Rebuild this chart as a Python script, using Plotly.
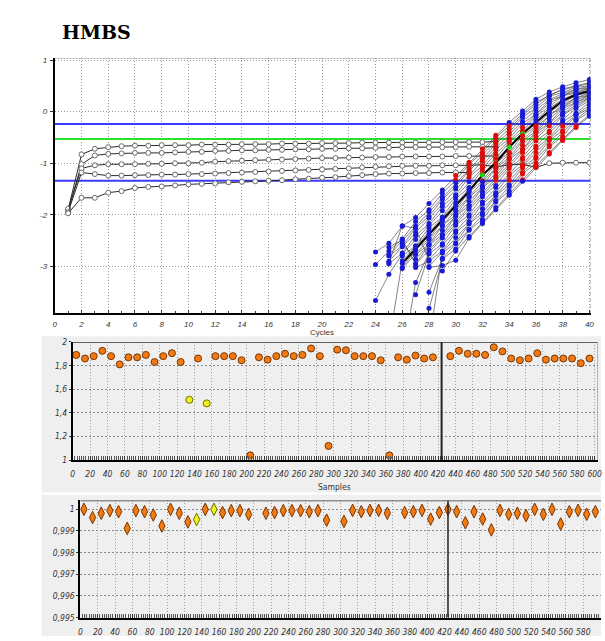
import plotly.graph_objects as go

W, H = 605, 641

# ---------------- data ----------------
title_text = "HMBS"
top_x_title = "Cycles"
mid_x_title = "Samples"

cycle_ticks = [0, 2, 4, 6, 8, 10, 12, 14, 16, 18, 20, 22, 24, 26, 28, 30, 32, 34, 36, 38, 40]
cycle_tick_labels = ["0", "2", "4", "6", "8", "10", "12", "14", "16", "18", "20",
                     "22", "24", "26", "28", "30", "32", "34", "36", "38", "40"]
logf_ticks = [1, 0, -1, -2, -3]
logf_tick_labels = ["1", "0", "-1", "-2", "-3"]

sample_ticks = [0, 20, 40, 60, 80, 100, 120, 140, 160, 180, 200, 220, 240, 260, 280, 300,
                320, 340, 360, 380, 400, 420, 440, 460, 480, 500, 520, 540, 560, 580, 600]
sample_tick_labels = [str(v) for v in sample_ticks]
eff_ticks = [1, 1.2, 1.4, 1.6, 1.8, 2]
eff_tick_labels = ["1", "1,2", "1,4", "1,6", "1,8", "2"]
r2_ticks = [0.995, 0.996, 0.997, 0.998, 0.999, 1.0]
r2_tick_labels = ["0,995", "0,996", "0,997", "0,998", "0,999", "1"]

window_upper = -0.24
window_lower = -1.34
threshold = -0.53

# flat (non-amplifying) curves, log10 fluorescence from cycle 1
flat_A = [-1.90, -0.83, -0.72, -0.69, -0.67, -0.66, -0.66, -0.65, -0.65, -0.65, -0.64, -0.64, -0.64,
          -0.63, -0.63, -0.63, -0.62, -0.62, -0.62, -0.61, -0.61, -0.61, -0.60, -0.60, -0.60, -0.60,
          -0.60, -0.60, -0.59, -0.59, -0.59, -0.59, -0.58]
flat_B = [-1.93, -1.02, -0.85, -0.82, -0.81, -0.80, -0.80, -0.80, -0.79, -0.78, -0.78, -0.76, -0.76,
          -0.75, -0.75, -0.74, -0.74, -0.73, -0.73, -0.72, -0.72, -0.71, -0.71, -0.70, -0.70, -0.69,
          -0.69, -0.69, -0.69, -0.69, -0.68, -0.68, -0.68]
flat_C = [-1.88, -1.10, -1.04, -1.02, -1.02, -1.02, -1.01, -1.01, -1.00, -1.00, -0.99, -0.97, -0.96,
          -0.95, -0.94, -0.93, -0.93, -0.92, -0.91, -0.90, -0.90, -0.89, -0.89, -0.88, -0.88, -0.87,
          -0.87, -0.87, -0.87, -0.86, -0.86, -0.86, -0.86]
flat_D = [-1.95, -1.18, -1.21, -1.24, -1.24, -1.23, -1.23, -1.22, -1.22, -1.21, -1.21, -1.20, -1.19,
          -1.18, -1.17, -1.16, -1.15, -1.14, -1.13, -1.12, -1.11, -1.10, -1.08, -1.07, -1.06, -1.05,
          -1.05, -1.05, -1.04, -1.04, -1.04, -1.03, -1.07, -1.03, -1.02, -1.08, -1.00, -0.99, -0.99, -0.99]
flat_E = [-1.97, -1.67, -1.67, -1.57, -1.54, -1.48, -1.46, -1.45, -1.43, -1.41, -1.40, -1.39, -1.37,
          -1.36, -1.35, -1.34, -1.33, -1.31, -1.30, -1.28, -1.27, -1.25, -1.23, -1.21, -1.20, -1.20,
          -1.19, -1.19, -1.18, -1.18, -1.18]
flat_curves = [flat_A, flat_B, flat_C, flat_D, flat_E]

# amplifying curves, log10 fluorescence at cycles 24..40
rise_cycles = [24, 25, 26, 27, 28, 29, 30, 31, 32, 33, 34, 35, 36, 37, 38, 39, 40]
rise_c01 = [-2.72, -2.55, -2.22, -2.05, -1.78, -1.52, -1.24, -0.98, -0.72, -0.46, -0.21, 0.01, 0.24, 0.38, 0.48, 0.56, 0.62]
rise_c02 = [-2.96, -2.70, -2.47, -2.13, -1.90, -1.58, -1.33, -1.02, -0.79, -0.50, -0.28, -0.04, 0.18, 0.31, 0.44, 0.50, 0.56]
rise_c03 = [None, -2.78, -2.50, -2.22, -1.94, -1.66, -1.38, -1.10, -0.84, -0.58, -0.33, -0.08, 0.14, 0.32, 0.42, 0.49, 0.54]
rise_c04 = [None, -2.80, -2.60, -2.25, -2.03, -1.70, -1.46, -1.14, -0.92, -0.62, -0.40, -0.11, 0.07, 0.30, 0.37, 0.47, 0.50]
rise_c05 = [None, -2.90, -2.62, -2.34, -2.06, -1.78, -1.50, -1.22, -0.96, -0.70, -0.44, -0.19, 0.03, 0.23, 0.35, 0.43, 0.49]
rise_c06 = [None, -2.95, -2.74, -2.40, -2.17, -1.84, -1.61, -1.27, -1.05, -0.74, -0.52, -0.23, -0.05, 0.21, 0.31, 0.43, 0.46]
rise_c07 = [-3.66, -3.15, -2.76, -2.48, -2.20, -1.92, -1.64, -1.36, -1.08, -0.82, -0.56, -0.31, -0.06, 0.16, 0.31, 0.39, 0.45]
rise_c08 = [None, None, -2.80, -2.60, -2.25, -2.04, -1.69, -1.47, -1.13, -0.91, -0.59, -0.38, -0.09, 0.09, 0.31, 0.36, 0.45]
rise_c09 = [None, -4.50, -2.89, -2.61, -2.33, -2.05, -1.77, -1.49, -1.21, -0.93, -0.67, -0.41, -0.16, 0.06, 0.24, 0.35, 0.42]
rise_c10 = [None, None, -2.94, -2.66, -2.38, -2.10, -1.82, -1.54, -1.23, -0.99, -0.69, -0.43, -0.21, 0.01, 0.21, 0.33, 0.40]
rise_c11 = [None, None, -3.02, -2.68, -2.46, -2.12, -1.90, -1.56, -1.34, -1.00, -0.79, -0.47, -0.28, -0.01, 0.16, 0.32, 0.36]
rise_c12 = [None, None, -3.04, -2.76, -2.48, -2.20, -1.92, -1.64, -1.36, -1.08, -0.81, -0.55, -0.30, -0.08, 0.13, 0.27, 0.36]
rise_c13 = [None, None, None, -2.77, -2.57, -2.21, -2.00, -1.66, -1.44, -1.10, -0.89, -0.57, -0.38, -0.07, 0.09, 0.27, 0.32]
rise_c14 = [None, None, -2.55, -2.86, -2.58, -2.30, -2.02, -1.74, -1.46, -1.18, -0.91, -0.65, -0.39, -0.14, 0.08, 0.23, 0.32]
rise_c15 = [None, None, None, -2.95, -2.59, -2.38, -2.03, -1.82, -1.48, -1.26, -0.93, -0.73, -0.41, -0.22, 0.06, 0.18, 0.32]
rise_c16 = [None, -2.63, -2.48, -2.96, -2.68, -2.40, -2.12, -1.84, -1.56, -1.28, -1.01, -0.74, -0.48, -0.23, -0.01, 0.18, 0.28]
rise_c17 = [None, None, -4.80, -3.31, -2.73, -2.45, -2.17, -1.89, -1.61, -1.33, -1.06, -0.79, -0.53, -0.28, -0.06, 0.14, 0.26]
rise_c18 = [None, None, None, -3.55, -2.76, -2.56, -2.20, -2.00, -1.65, -1.43, -1.10, -0.89, -0.57, -0.38, -0.07, 0.09, 0.26]
rise_c19 = [None, -2.93, -2.21, -2.26, -2.87, -2.59, -2.31, -2.03, -1.75, -1.47, -1.20, -0.93, -0.67, -0.41, -0.16, 0.06, 0.21]
rise_c20 = [None, None, None, -3.02, -2.90, -2.70, -2.34, -2.13, -1.79, -1.57, -1.24, -1.03, -0.71, -0.51, -0.20, -0.03, 0.18]
rise_c21 = [None, None, None, None, -3.00, -2.72, -2.44, -2.16, -1.88, -1.60, -1.33, -1.06, -0.79, -0.53, -0.28, -0.06, 0.12]
rise_c22 = [None, None, None, None, -4.50, -2.74, -2.54, -2.18, -1.97, -1.63, -1.42, -1.09, -0.88, -0.56, -0.37, -0.07, 0.06]
rise_c23 = [None, None, None, None, -3.50, -2.84, -2.56, -2.28, -2.00, -1.72, -1.45, -1.18, -0.91, -0.65, -0.40, -0.15, 0.05]
rise_c24 = [None, None, None, -4.80, -3.81, -2.86, -2.66, -2.30, -2.09, -1.75, -1.54, -1.21, -1.00, -0.68, -0.48, -0.17, -0.01]
rise_c25 = [None, None, None, None, None, -3.09, -2.70, -2.42, -2.14, -1.86, -1.59, -1.32, -1.05, -0.79, -0.53, -0.28, -0.06]
rise_c26 = [None, None, None, None, -3.02, -2.98, -2.88, -2.45, -2.17, -1.90, -1.62, -1.35, -1.08, -0.82, -0.56, -0.31, -0.09]
rising_curves = [rise_c01, rise_c02, rise_c03, rise_c04, rise_c05, rise_c06, rise_c07, rise_c08,
                 rise_c09, rise_c10, rise_c11, rise_c12, rise_c13, rise_c14, rise_c15, rise_c16,
                 rise_c17, rise_c18, rise_c19, rise_c20, rise_c21, rise_c22, rise_c23, rise_c24,
                 rise_c25, rise_c26]
selected_curve = 9

# per-sample results
sample_pos = [4, 14, 24, 34, 44, 54, 64, 74, 84, 94, 104, 114, 124, 134, 144, 154, 164, 174, 184, 194,
              204, 214, 224, 234, 244, 254, 264, 274, 284, 294, 304, 314, 324, 334, 344, 354, 364, 374,
              384, 394, 404, 414, 424, 434, 444, 454, 464, 474, 484, 494, 504, 514, 524, 534, 544, 554,
              564, 574, 584, 594]
efficiency = [1.89, 1.86, 1.88, 1.925, 1.88, 1.81, 1.87, 1.87, 1.89, 1.83,
              1.88, 1.905, 1.83, 1.51, 1.86, 1.48, 1.88, 1.88, 1.88, 1.845,
              1.04, 1.87, 1.85, 1.88, 1.90, 1.88, 1.89, 1.945, 1.88, 1.12,
              1.935, 1.93, 1.88, 1.88, 1.88, 1.845, 1.04, 1.87, 1.85, 1.885,
              1.86, 1.87, None, 1.88, 1.925, 1.90, 1.90, 1.89, 1.955, 1.92,
              1.86, 1.845, 1.86, 1.905, 1.85, 1.86, 1.86, 1.86, 1.82, 1.86]
r_squared = [1.0, 0.99962, 0.99982, 0.99994, 0.99989, 0.99912, 0.99994, 0.99989, 0.99974, 0.99923,
             1.0, 0.99982, 0.99942, 0.99953, 1.0, 1.0, 0.99985, 0.99994, 0.99994, 0.99977,
             None, 0.99982, 0.99985, 0.99994, 0.99994, 0.99994, 0.99989, 0.99994, 0.9995, None,
             0.99944, 0.99995, 0.99989, 0.99995, 0.99995, 0.99982, None, 0.99985, 0.99989, 0.99995,
             0.99955, 0.99985, 1.0, 0.99989, 0.99938, 0.99989, 0.99955, 0.99905, 0.99995, 0.99977,
             0.99982, 0.99971, 1.0, 0.99977, 1.0, 0.99932, 0.99989, 0.99995, 0.99977, 0.99989]
yellow_samples = [134, 154]
selected_sample = 424

# ---------------- layout helpers ----------------
def fx(px):
    return px / W

def fy(py):
    return 1 - py / H

BLUE = "#1a1ad6"
RED = "#dd0a0a"
GREEN = "#18d018"
ORANGE = "#f27a12"
ORANGE_EDGE = "#7a3500"
YELLOW = "#f2f21a"
YELLOW_EDGE = "#6d6d00"
PANEL = "#efefef"

top_font = dict(family="Liberation Sans, Arial, sans-serif", size=8, color="#333333", style="italic")
narrow_font = dict(family="Liberation Sans Narrow, DejaVu Sans Condensed, Liberation Sans, sans-serif",
                   size=8.5, color="#333333", style="italic")

top_xr = [0, 40.1]
top_yr = [-3.91, 1.03]
mid_xr = [0, 603.5]
mid_yr = [1, 2]
bot_xr = [0, 600.5]
bot_yr = [0.995, 1.00041]

fig = go.Figure()

# threshold / window lines
for val, col in [(window_upper, "#3a3aff"), (threshold, "#2ee02e"), (window_lower, "#3a3aff")]:
    fig.add_trace(go.Scatter(x=top_xr, y=[val, val], mode="lines", xaxis="x", yaxis="y",
                             line=dict(color=col, width=2), hoverinfo="skip"))

# flat curves
for curve in flat_curves:
    fig.add_trace(go.Scatter(x=list(range(1, len(curve) + 1)), y=curve, mode="lines+markers",
                             xaxis="x", yaxis="y",
                             line=dict(color="#2a2a2a", width=1),
                             marker=dict(symbol="circle", size=5, color="white",
                                         line=dict(color="#6a6a6a", width=1))))

# rising curves: lines
lx, ly = [], []
for i, curve in enumerate(rising_curves):
    if i == selected_curve:
        continue
    for c, v in zip(rise_cycles, curve):
        lx.append(c)
        ly.append(v)
    lx.append(None)
    ly.append(None)
fig.add_trace(go.Scatter(x=lx, y=ly, mode="lines", xaxis="x", yaxis="y",
                         line=dict(color="rgba(50,50,50,0.75)", width=0.8), hoverinfo="skip"))
fig.add_trace(go.Scatter(x=rise_cycles, y=rising_curves[selected_curve], mode="lines",
                         xaxis="x", yaxis="y", line=dict(color="black", width=2)))

# rising curves: markers
mx, my, mc = [], [], []
for i, curve in enumerate(rising_curves):
    for c, v in zip(rise_cycles, curve):
        if v is None:
            continue
        inside = window_lower <= v <= window_upper
        if inside:
            col = GREEN if i == selected_curve else RED
        else:
            col = BLUE
        mx.append(c)
        my.append(v)
        mc.append(col)
fig.add_trace(go.Scatter(x=mx, y=my, mode="markers", xaxis="x", yaxis="y",
                         marker=dict(symbol="circle", size=5, color=mc, line=dict(width=0))))

# efficiency panel
ex = [p for p, e in zip(sample_pos, efficiency) if e is not None]
ey = [e for e in efficiency if e is not None]
ec = [YELLOW if p in yellow_samples else ORANGE for p in ex]
ee = [YELLOW_EDGE if p in yellow_samples else ORANGE_EDGE for p in ex]
fig.add_trace(go.Scatter(x=ex, y=ey, mode="markers", xaxis="x2", yaxis="y2",
                         marker=dict(symbol="circle", size=7, color=ec, line=dict(color=ee, width=1))))

# R2 panel
rx = [p for p, r in zip(sample_pos, r_squared) if r is not None]
ry = [r for r in r_squared if r is not None]
rc = [YELLOW if p in yellow_samples else ORANGE for p in rx]
re_ = [YELLOW_EDGE if p in yellow_samples else ORANGE_EDGE for p in rx]
fig.add_trace(go.Scatter(x=rx, y=ry, mode="markers", xaxis="x3", yaxis="y3",
                         marker=dict(symbol="diamond-tall", size=9, color=rc, line=dict(color=re_, width=1))))

shapes = [
    # grey panels
    dict(type="rect", xref="paper", yref="paper", x0=fx(40), x1=1, y0=fy(495), y1=fy(336.5),
         fillcolor=PANEL, line=dict(width=0), layer="below"),
    dict(type="rect", xref="paper", yref="paper", x0=fx(40), x1=1, y0=0, y1=fy(497.5),
         fillcolor=PANEL, line=dict(width=0), layer="below"),
    # top plot borders
    dict(type="line", xref="x", yref="y", x0=top_xr[0], x1=top_xr[1], y0=top_yr[1], y1=top_yr[1],
         line=dict(color="#8a8a8a", width=1)),
    dict(type="line", xref="x", yref="y", x0=top_xr[1], x1=top_xr[1], y0=top_yr[0], y1=top_yr[1],
         line=dict(color="#8a8a8a", width=1, dash="dot")),
    # middle plot borders
    dict(type="line", xref="x2", yref="y2", x0=mid_xr[0], x1=mid_xr[1], y0=mid_yr[1], y1=mid_yr[1],
         line=dict(color="#333333", width=1.5)),
    dict(type="line", xref="x2", yref="y2", x0=mid_xr[1], x1=mid_xr[1], y0=mid_yr[0], y1=mid_yr[1],
         line=dict(color="#8a8a8a", width=1)),
    dict(type="line", xref="x2", yref="y2", x0=selected_sample, x1=selected_sample, y0=mid_yr[0], y1=mid_yr[1],
         line=dict(color="#222222", width=2)),
    # bottom plot borders
    dict(type="line", xref="x3", yref="y3", x0=bot_xr[0], x1=bot_xr[1], y0=bot_yr[1], y1=bot_yr[1],
         line=dict(color="#333333", width=1.5)),
    dict(type="line", xref="x3", yref="y3", x0=selected_sample, x1=selected_sample, y0=bot_yr[0], y1=bot_yr[1],
         line=dict(color="#222222", width=1.5)),
]

annotations = [
    dict(text="<b>" + title_text + "</b>", xref="paper", yref="paper", x=fx(59), y=fy(27.5),
         xanchor="left", yanchor="middle", showarrow=False,
         font=dict(family="DejaVu Serif, Liberation Serif, serif", size=19, color="black")),
    dict(text=top_x_title, xref="paper", yref="paper", x=fx(323), y=fy(333), xanchor="center",
         yanchor="middle", showarrow=False,
         font=dict(family="Liberation Sans, Arial, sans-serif", size=8, color="#333333")),
    dict(text=mid_x_title, xref="paper", yref="paper", x=fx(336), y=fy(490), xanchor="center",
         yanchor="middle", showarrow=False,
         font=dict(family="Liberation Sans Narrow, DejaVu Sans Condensed, Liberation Sans, sans-serif",
                   size=8.5, color="#333333")),
]

grid_top = dict(showgrid=True, gridcolor="#9a9a9a", griddash="1px,2px", gridwidth=1, zeroline=False)
grid_low_x = dict(showgrid=True, gridcolor="#a0a0a0", griddash="1px,2px", gridwidth=1, zeroline=False)
grid_low_y = dict(showgrid=True, gridcolor="#8c8c8c", griddash="2px,2px", gridwidth=1, zeroline=False)

fig.update_layout(
    width=W, height=H,
    margin=dict(l=0, r=0, t=0, b=0),
    paper_bgcolor="white",
    plot_bgcolor="rgba(0,0,0,0)",
    showlegend=False,
    shapes=shapes,
    annotations=annotations,
    xaxis=dict(domain=[fx(53.3), fx(594.6)], anchor="y", range=top_xr,
               tickmode="array", tickvals=cycle_ticks, ticktext=cycle_tick_labels,
               ticks="inside", ticklen=3, tickcolor="#333", tickfont=top_font, ticklabelstandoff=2,
               showline=True, linecolor="black", linewidth=2,
               minor=dict(dtick=1, ticks="inside", ticklen=2, tickcolor="#333", showgrid=False),
               **grid_top),
    yaxis=dict(domain=[fy(313.3), fy(54.3)], anchor="x", range=top_yr,
               tickmode="array", tickvals=logf_ticks, ticktext=logf_tick_labels,
               ticks="outside", ticklen=3, tickcolor="#333", tickfont=top_font, ticklabelstandoff=1,
               showline=True, linecolor="black", linewidth=2, **grid_top),
    xaxis2=dict(domain=[fx(71.5), fx(601.7)], anchor="y2", range=mid_xr,
                tickmode="array", tickvals=sample_ticks, ticktext=sample_tick_labels,
                ticks="inside", ticklen=4, tickcolor="#333", tickfont=narrow_font, ticklabelstandoff=5,
                showline=True, linecolor="black", linewidth=2,
                minor=dict(dtick=2.5, ticks="inside", ticklen=4, tickcolor="#555", showgrid=False),
                **grid_low_x),
    yaxis2=dict(domain=[fy(462.3), fy(342.3)], anchor="x2", range=mid_yr,
                tickmode="array", tickvals=eff_ticks, ticktext=eff_tick_labels,
                ticks="outside", ticklen=2, tickcolor="#333", tickfont=narrow_font, ticklabelstandoff=0,
                showline=True, linecolor="black", linewidth=2, **grid_low_y),
    xaxis3=dict(domain=[fx(79.2), 1.0], anchor="y3", range=bot_xr,
                tickmode="array", tickvals=sample_ticks, ticktext=sample_tick_labels,
                ticks="inside", ticklen=4, tickcolor="#333", tickfont=narrow_font, ticklabelstandoff=5,
                showline=True, linecolor="black", linewidth=2,
                minor=dict(dtick=2.5, ticks="inside", ticklen=4, tickcolor="#555", showgrid=False),
                **grid_low_x),
    yaxis3=dict(domain=[fy(622.3), fy(503.3)], anchor="x3", range=bot_yr,
                tickmode="array", tickvals=r2_ticks, ticktext=r2_tick_labels,
                ticks="outside", ticklen=2, tickcolor="#333", tickfont=narrow_font, ticklabelstandoff=0,
                showline=True, linecolor="black", linewidth=2, **grid_low_y),
)

fig.write_html("out.html", config={"displayModeBar": False},
               post_script="document.body.style.margin='0px';document.body.style.overflow='hidden';")
